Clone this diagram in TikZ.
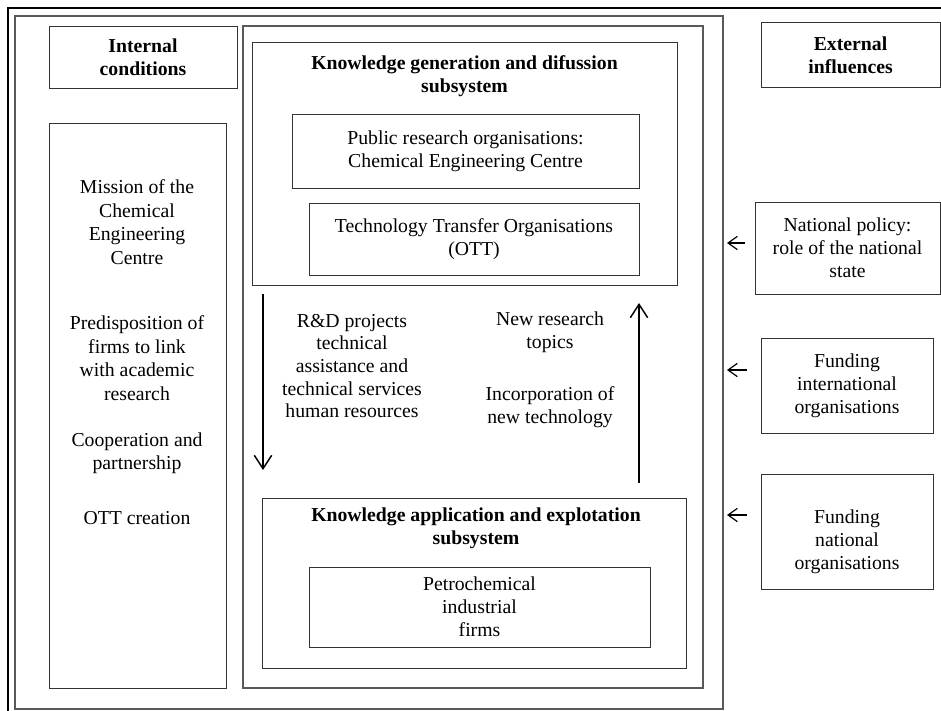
\documentclass[tikz,border=0pt]{standalone}
\usepackage{fontspec}
\setmainfont{Liberation Serif}
\usetikzlibrary{arrows.meta,positioning}
\newcommand{\BoxFont}{\fontsize{14.8pt}{17.4pt}\selectfont}

\tikzset{
  box/.style={draw=black!80, line width=0.75pt, align=center, inner sep=0pt, outer sep=0pt, font=\BoxFont},
  label text/.style={align=center, inner sep=0pt, font=\BoxFont},
  title text/.style={label text, font=\BoxFont\bfseries},
  frame/.style={draw=black!65, line width=0.9pt},
  outer frame/.style={draw=black, line width=1.5pt},
  flow/.style={line width=1.1pt, -{Straight Barb[length=10pt,width=13pt]}},
  influence/.style={line width=0.9pt, -{Straight Barb[length=7pt,width=10pt]}},
}

\begin{document}
\begin{tikzpicture}[x=0.75pt, y=-0.75pt]
		\useasboundingbox (0,0) rectangle (941,710);

		% Frames
		\draw[outer frame] (8,712) -- (8,8) -- (943,8);
		\draw[frame] (15,16) rectangle (723,709);
		\draw[frame] (243,26) rectangle (703,688);

		% Internal conditions
		\node[box, minimum width=141pt, minimum height=45.75pt, font=\BoxFont\bfseries] (internal) at (143,57.5) {Internal\\conditions};
		\node[box, minimum width=132.75pt, minimum height=423.75pt] (leftcol) at (137.5,405.5) {};
		\node[label text, font=\fontsize{14.8pt}{17.6pt}\selectfont] (mission) at (137,222) {Mission of the\\Chemical\\Engineering\\Centre};
		\node[label text, font=\fontsize{14.8pt}{17.6pt}\selectfont] (predisp) at (137,358) {Predisposition of\\firms to link\\with academic\\research};
		\node[label text, font=\fontsize{14.8pt}{17.6pt}\selectfont] (coop) at (137,453.5) {Cooperation and\\partnership};
		\node[label text] (ottcreat) at (137,518) {OTT creation};

		% Knowledge generation and difussion subsystem
		\node[box, minimum width=318.75pt, minimum height=181.5pt] (kgen) at (464.5,164) {};
		\node[title text] (kgtitle) at (464.5,76) {Knowledge generation and difussion\\subsystem};
		\node[box, minimum width=260.25pt, minimum height=55.5pt] (pub) at (465.5,151) {Public research organisations:\\Chemical Engineering Centre};
		\node[box, minimum width=247.5pt, minimum height=54pt, anchor=north east,
		      below left=11.25pt and 0pt of pub.south east] (ott) {Technology Transfer Organisations\\(OTT)};

		% Knowledge application and explotation subsystem
		\node[box, minimum width=318pt, minimum height=127.5pt] (kapp) at (474,583) {};
		\node[title text] (katitle) at (476,528) {Knowledge application and explotation\\subsystem};
		\node[box, minimum width=255.75pt, minimum height=60pt] (firms) at (479.5,607) {Petrochemical\\industrial\\firms};

		% Flows between the subsystems
		\node[label text, font=\fontsize{14.8pt}{16.9pt}\selectfont] (down-text) at (352,366) {R\&D projects\\technical\\assistance and\\technical services\\human resources};
		\node[label text, font=\fontsize{14.8pt}{16.9pt}\selectfont] (topics) at (550,332) {New research\\topics};
		\node[label text, font=\fontsize{14.8pt}{16.9pt}\selectfont] (incorp) at (550,407) {Incorporation of\\new technology};
		\coordinate (down-end) at (263,470);
		\coordinate (up-end) at (639,303);
		\draw[flow] ([shift={(11,9)}]kgen.south west) -- (down-end);
		\draw[flow] ([shift={(377,-15)}]kapp.north west) -- (up-end);

		% External influences
		\node[box, minimum width=134.25pt, minimum height=48pt, font=\BoxFont\bfseries] (external) at (850.5,55) {External\\influences};
		\node[box, minimum width=138.75pt, minimum height=69pt] (natpol) at (847.5,248) {National policy:\\role of the national\\state};
		\node[box, minimum width=129pt, minimum height=71.25pt] (fundint) at (847,385.5) {Funding\\international\\organisations};
		\node[box, minimum width=129pt, minimum height=86.25pt, below=30.75pt of fundint] (fundnat) {};
		\node[label text] (fundnat-text) at (847,542) {Funding\\national\\organisations};

		\coordinate (natpol-in) at (727,243);
		\coordinate (fundint-in) at (727,370);
		\coordinate (fundnat-in) at (727,515);
		\draw[influence] ([shift={(-10,-5)}]natpol.west) -- (natpol-in);
		\draw[influence] ([shift={(-14,-15.5)}]fundint.west) -- (fundint-in);
		\draw[influence] ([shift={(-14,-16.5)}]fundnat.west) -- (fundnat-in);
	\end{tikzpicture}
\end{document}
